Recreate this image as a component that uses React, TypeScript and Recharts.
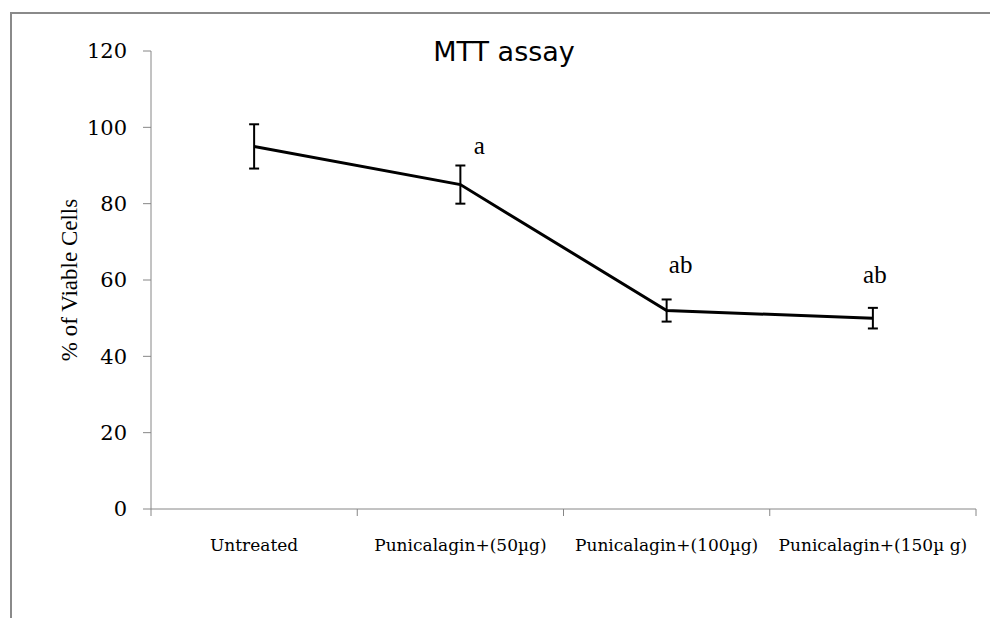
import { LineChart, Line, XAxis, YAxis, ErrorBar, LabelList } from "recharts";

// categorias e valores
const categories = [
  "Untreated",
  "Punicalagin+(50µg)",
  "Punicalagin+(100µg)",
  "Punicalagin+(150µ g)",
];
const viable = [95, 85, 52, 50];
const errors = [5.8, 5, 2.9, 2.7];
const letters = ["", "a", "ab", "ab"];
const yTicks = [0, 20, 40, 60, 80, 100, 120];

const data = categories.map((name, i) => ({
  name,
  viable: viable[i],
  err: errors[i],
  letter: letters[i],
}));

const W = 990;
const H = 618;
const margin = { top: 51, right: 14, bottom: 0, left: 0 };
const yAxisWidth = 151;
const band = (W - margin.left - margin.right - yAxisWidth) / categories.length;
const axisGray = "#868686";

// tick do eixo X: rótulo no centro e marcas nas divisões entre categorias
const XTick = (props: any) => {
  const { x, y, payload, index } = props;
  const half = band / 2;
  return (
    <g>
      <line x1={x - half} x2={x - half} y1={y} y2={y + 7} stroke={axisGray} />
      {index === categories.length - 1 && (
        <line x1={x + half} x2={x + half} y1={y} y2={y + 7} stroke={axisGray} />
      )}
      <text
        x={x}
        y={y + 42}
        textAnchor="middle"
        fontFamily="DejaVu Serif"
        fontSize={17}
        fill="#000"
      >
        {payload.value}
      </text>
    </g>
  );
};

const YLabel = () => (
  <text
    x={77}
    y={280}
    transform="rotate(-90, 77, 280)"
    textAnchor="middle"
    fontFamily="Liberation Serif"
    fontSize={23}
    fill="#000"
  >
    % of Viable Cells
  </text>
);

// letras de significância acima das barras de erro
const letterShift = [
  [0, 0],
  [19, -31],
  [14, -38],
  [2, -35],
];
const LetterLabel = (props: any) => {
  const { x, y, value, index } = props;
  if (!value) return null;
  const [dx, dy] = letterShift[index] || [0, -35];
  return (
    <text
      x={x + dx}
      y={y + dy}
      textAnchor="middle"
      fontFamily="Liberation Serif"
      fontSize={25}
      fill="#000"
    >
      {value}
    </text>
  );
};

export default function App() {
  return (
    <div
      style={{
        position: "absolute",
        left: 0,
        top: 0,
        width: W,
        height: H,
        overflow: "hidden",
        background: "#fff",
      }}
    >
      <div
        style={{
          position: "absolute",
          left: 10,
          top: 12,
          width: 1100,
          height: 800,
          border: "2px solid #8a8a8a",
        }}
      />
      <div
        style={{
          position: "absolute",
          left: 0,
          top: 36,
          width: 1008,
          textAlign: "center",
          fontFamily: "DejaVu Sans",
          fontSize: 27,
          lineHeight: "32px",
          color: "#000",
        }}
      >
        MTT assay
      </div>
      <div style={{ position: "absolute", left: 0, top: 0 }}>
        <LineChart width={W} height={H} data={data} margin={margin}>
          <XAxis
            dataKey="name"
            scale="band"
            height={109}
            tickLine={false}
            tickSize={0}
            tickMargin={0}
            interval={0}
            stroke={axisGray}
            tick={<XTick />}
          />
          <YAxis
            width={yAxisWidth}
            domain={[0, 120]}
            ticks={yTicks}
            interval={0}
            tickSize={8}
            tickMargin={16}
            stroke={axisGray}
            tick={{ fill: "#000", fontFamily: "DejaVu Serif", fontSize: 21 }}
            label={<YLabel />}
          />
          <Line
            type="linear"
            dataKey="viable"
            stroke="#000"
            strokeWidth={3}
            dot={false}
            isAnimationActive={false}
          >
            <ErrorBar
              dataKey="err"
              direction="y"
              width={5}
              stroke="#000"
              strokeWidth={2}
              isAnimationActive={false}
            />
            <LabelList dataKey="letter" content={<LetterLabel />} />
          </Line>
        </LineChart>
      </div>
    </div>
  );
}
